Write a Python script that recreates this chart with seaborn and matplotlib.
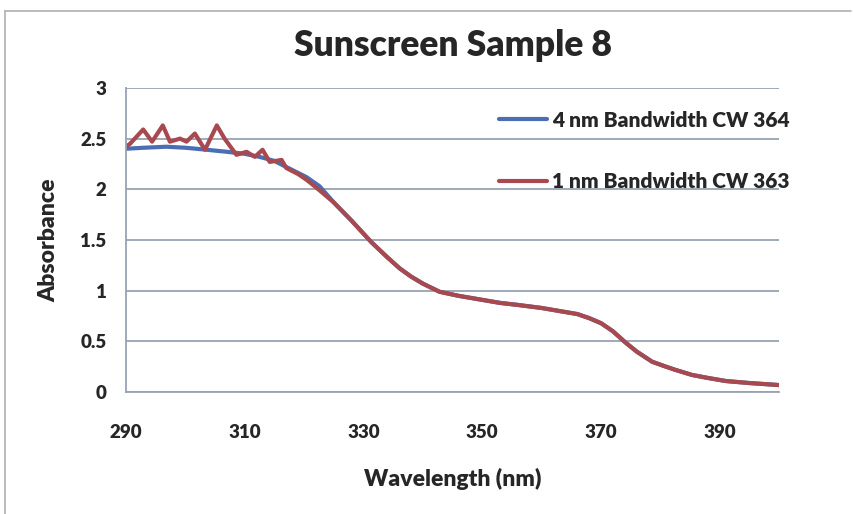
import pandas as pd
import matplotlib.pyplot as plt
import seaborn as sns

# 4 nm bandwidth, smooth head
bw4_nm = [290, 293, 296.8, 300, 303.6, 307, 310, 312.5, 315, 317, 320.4, 322.6]
bw4_abs = [2.40, 2.41, 2.42, 2.41, 2.39, 2.37, 2.35, 2.32, 2.28, 2.22, 2.12, 2.03]

# 1 nm bandwidth, noisy head
bw1_nm = [290, 290.7, 292.9, 294.4, 296.2, 297.4, 299.1, 300.2, 301.6, 303.3,
          305.3, 306.6, 308.6, 310.3, 311.7, 313, 314.2, 316.2, 317, 319,
          320.5, 322.6]
bw1_abs = [2.42, 2.45, 2.59, 2.47, 2.63, 2.47, 2.50, 2.47, 2.55, 2.39,
           2.63, 2.50, 2.34, 2.37, 2.32, 2.39, 2.27, 2.29, 2.21, 2.15,
           2.09, 1.99]

# shared tail where both curves overlap
tail_nm = [325, 328, 331.3, 334, 336.1, 338, 340, 342.8, 346, 350, 353, 356,
           360, 363, 366, 368, 370, 372, 374.1, 376, 378.6, 380.5, 382.5,
           385.3, 388, 391, 395, 400]
tail_abs = [1.87, 1.69, 1.48, 1.33, 1.22, 1.14, 1.07, 0.99, 0.95, 0.91, 0.88,
            0.86, 0.83, 0.80, 0.77, 0.73, 0.68, 0.60, 0.49, 0.40, 0.30, 0.26,
            0.22, 0.17, 0.14, 0.11, 0.09, 0.07]

label4 = "4 nm Bandwidth CW 364"
label1 = "1 nm Bandwidth CW 363"

df = pd.concat([
    pd.DataFrame({"wl": bw4_nm + tail_nm, "absorb": bw4_abs + tail_abs, "series": label4}),
    pd.DataFrame({"wl": bw1_nm + tail_nm, "absorb": bw1_abs + tail_abs, "series": label1}),
], ignore_index=True)

sns.set_style("white")
plt.rcParams["font.family"] = ["Lato", "DejaVu Sans"]
plt.rcParams["font.weight"] = "heavy"

grid_col = "#98a2b3"

fig = plt.figure(figsize=(8.54, 5.14), dpi=100)
ax = fig.add_axes([0.1475, 0.237, 0.765, 0.592])

sns.lineplot(data=df, x="wl", y="absorb", hue="series", sort=False,
             palette={label4: "#4a6db3", label1: "#a8494f"},
             linewidth=3.0, ax=ax)

ax.set_xlim(290, 400)
ax.set_ylim(0, 3)
ax.set_xticks([290, 310, 330, 350, 370, 390])
ax.set_yticks([0, 0.5, 1, 1.5, 2, 2.5, 3])
ax.set_yticklabels(["0", "0.5", "1", "1.5", "2", "2.5", "3"])
ax.yaxis.grid(True, color=grid_col, linewidth=1.3)
ax.set_axisbelow(True)
for side in ["top", "right"]:
    ax.spines[side].set_visible(False)
for side in ["left", "bottom"]:
    ax.spines[side].set_color(grid_col)
    ax.spines[side].set_linewidth(1.3)
ax.tick_params(axis="both", direction="out", length=5, width=1, color=grid_col,
               labelsize=13.5)
ax.tick_params(axis="y", pad=9)
ax.tick_params(axis="x", pad=18)
for lbl in ax.get_xticklabels() + ax.get_yticklabels():
    lbl.set_fontweight("heavy")

ax.set_title("Sunscreen Sample 8", fontsize=25.5, fontweight="heavy", pad=23)
ax.set_xlabel("Wavelength (nm)", fontsize=16.5, fontweight="heavy", labelpad=19)
ax.set_ylabel("Absorbance", fontsize=16.5, fontweight="heavy", labelpad=15)

leg = ax.legend(loc="upper left", bbox_to_anchor=(0.571, 0.925), frameon=False,
                fontsize=15, labelspacing=2.05, handlelength=2.3,
                handletextpad=0.25, borderpad=0, borderaxespad=0)
for t in leg.get_texts():
    t.set_fontweight("heavy")

# thin frame round the chart area, as in the scan
fig.add_artist(plt.Line2D([0.006, 0.996], [0.978, 0.978], color="#b0b0b0", linewidth=1.2))
fig.add_artist(plt.Line2D([0.006, 0.006], [0.0, 0.978], color="#b0b0b0", linewidth=1.2))

fig.savefig("out.png", dpi=100)
